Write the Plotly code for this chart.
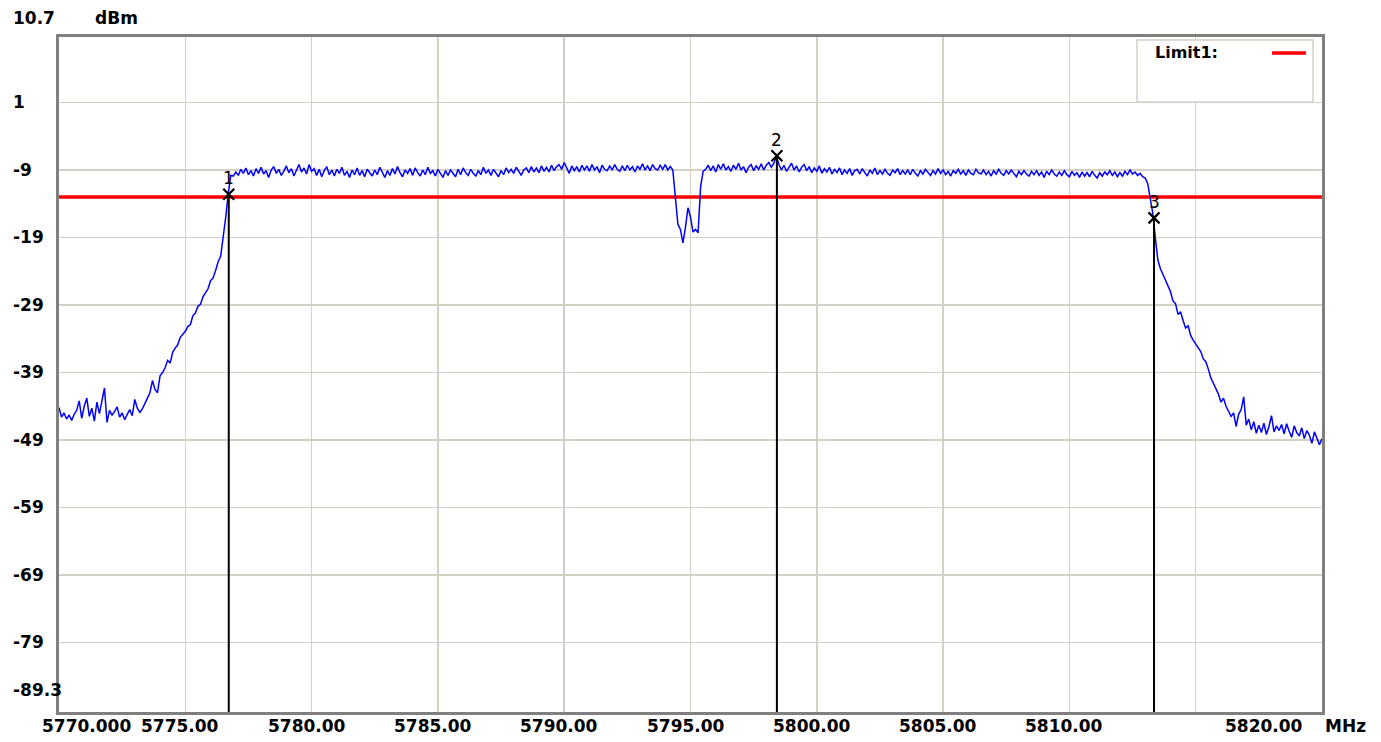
import numpy as np
import plotly.graph_objects as go

# ---------------- data ----------------
FREQ_MIN, FREQ_MAX = 5770.0, 5820.0
LEVEL_MIN, LEVEL_MAX = -89.3, 10.7
STEP_MHZ = 0.1

# trace segments: (start frequency, levels in dBm read at 0.1 MHz spacing)
SEG_NOISE_LEFT_START = 5770.0
SEG_NOISE_LEFT = [-44.2, -45.6, -45.0, -45.9, -45.3, -46.1, -45.2, -44.6, -43.2, -45.8,
                  -44.0, -42.8, -45.5, -44.3, -46.2, -43.4, -45.1, -42.9, -41.3, -46.4,
                  -44.6, -45.3, -44.8, -44.1, -45.6, -45.0, -46.0, -45.2, -44.5, -45.4,
                  -43.0, -44.3, -44.9]
SEG_RISE_START = 5773.3
SEG_RISE = [-44.4, -43.5, -42.8, -42.0, -40.2, -41.5, -42.0, -39.5, -39.0, -38.3,
            -37.2, -37.6, -36.0, -35.4, -34.9, -33.8, -33.4, -32.9, -32.2, -31.9,
            -30.6, -30.2, -29.2, -28.9, -27.8, -27.1, -26.6, -25.4, -25.0, -23.9,
            -22.6, -21.8, -19.2, -16.0, -12.5, -9.8]
SEG_FLAT1_START = 5776.9
SEG_FLAT1 = [-9.9, -9.3, -9.8, -8.9, -9.5, -8.7, -9.7, -9.1, -9.9, -8.8,
             -9.5, -8.6, -9.6, -9.1, -10.1, -9.0, -8.5, -9.5, -8.9, -9.8,
             -9.2, -8.4, -9.4, -8.8, -9.9, -8.9, -8.2, -9.3, -8.7, -9.6,
             -8.2, -9.2, -8.8, -9.8, -8.9, -10.0, -9.1, -8.5, -9.7, -9.0,
             -9.9, -8.9, -9.5, -8.6, -9.8, -9.2, -10.1, -9.0, -9.7, -8.7,
             -9.8, -9.1, -10.0, -8.9, -9.5, -9.9, -9.0, -9.7, -8.6, -9.4,
             -10.1, -9.1, -9.8, -8.8, -9.6, -8.5, -9.4, -10.0, -9.0, -9.5,
             -8.8, -9.8, -8.7, -9.4, -9.9, -9.0, -9.7, -8.6, -9.5, -9.1,
             -9.9, -8.9, -9.6, -10.1, -9.1, -9.8, -9.0, -9.5, -10.0, -8.9,
             -9.7, -8.7, -9.4, -9.8, -8.9, -9.5, -9.9, -9.1, -9.7, -8.6,
             -9.5, -9.0, -9.8, -8.9, -9.4, -10.0, -9.1, -9.7, -8.7, -9.4,
             -8.9, -9.5, -8.6, -9.3, -9.8, -9.0, -8.7, -9.4, -8.5, -9.3,
             -8.7, -9.4, -8.4, -9.2, -8.6, -9.3, -8.3, -9.1, -8.5, -8.2,
             -8.9, -7.9, -8.7, -9.5, -8.4, -9.1, -8.5, -9.3, -8.3, -9.0,
             -8.4, -9.2, -8.2, -9.0, -8.5, -9.4, -8.3, -8.9, -9.1, -8.4,
             -9.0, -8.2, -8.9, -9.2, -8.4, -9.1, -8.3, -9.0, -8.5, -9.3,
             -8.4, -8.9, -8.1, -9.0, -8.4, -9.1, -8.2, -8.8, -9.0, -8.3,
             -8.9, -8.2, -9.0, -8.5]
SEG_DIP_START = 5794.3
SEG_DIP = [-9.0, -12.5, -17.0, -17.8, -19.8, -17.5, -14.6, -16.0, -18.2, -17.8,
           -18.3, -11.5, -9.2]
SEG_FLAT2_START = 5795.6
SEG_FLAT2 = [-8.9, -8.3, -9.1, -8.4, -9.3, -8.2, -8.9, -8.1, -9.0, -8.5,
             -9.2, -8.3, -8.9, -8.0, -9.0, -8.5, -9.4, -8.6, -8.2, -9.1,
             -8.4, -8.9, -8.1, -9.0, -8.3, -7.9, -8.6, -8.0, -7.0, -8.2,
             -9.0, -8.3, -9.2, -8.5, -8.0, -9.0, -8.4, -9.3, -8.6, -8.2,
             -9.1, -8.5, -9.4, -8.7, -9.2, -8.4, -9.5, -8.8, -9.3, -8.6,
             -9.6, -8.9, -9.4, -8.7, -9.7, -9.0, -9.5, -8.8, -9.8, -9.1,
             -8.9, -9.6, -8.8, -9.4, -9.9, -9.0, -9.5, -8.7, -9.7, -9.1,
             -9.6, -8.9, -9.5, -9.8, -9.0, -9.4, -8.8, -9.7, -9.1, -9.6,
             -9.0, -9.7, -8.9, -9.5, -9.9, -9.1, -9.6, -8.9, -9.4, -9.8,
             -9.1, -9.6, -8.8, -9.5, -9.0, -9.7, -9.2, -9.9, -9.1, -9.5,
             -8.9, -9.6, -9.1, -9.8, -9.0, -9.5, -9.7, -8.9, -9.4, -9.6,
             -9.0, -9.7, -9.2, -9.9, -9.1, -9.6, -8.9, -9.5, -9.8, -9.1,
             -9.6, -9.0, -9.5, -10.0, -9.2, -9.7, -9.1, -9.6, -9.9, -9.2,
             -9.7, -9.1, -9.8, -9.3, -10.1, -9.2, -9.7, -9.0, -9.6, -9.9,
             -9.3, -9.8, -9.1, -9.7, -10.0, -9.2, -9.8, -9.4, -10.1, -9.3,
             -9.9, -9.4, -10.0, -9.2, -9.8, -10.2, -9.4, -9.9, -9.3, -9.7,
             -9.1, -9.8, -9.3, -10.0, -9.4, -9.9, -9.2, -9.7, -9.0, -9.6,
             -9.3, -9.8, -9.5, -10.0]
SEG_FALL_START = 5813.0
SEG_FALL = [-10.2, -11.0, -13.2, -15.4, -19.0, -22.3, -23.6, -24.5, -25.2, -26.1,
            -27.0, -28.4, -28.8, -30.4, -30.0, -31.3, -32.4, -32.1, -33.5, -34.2,
            -34.8, -35.5, -35.9, -37.0, -37.4, -38.5, -39.8, -40.6, -41.3, -42.2,
            -43.4, -42.8, -44.0, -44.8, -45.5, -45.0, -47.0, -45.2, -44.5, -42.6,
            -46.8, -45.9]
SEG_NOISE_RIGHT_START = 5817.2
SEG_NOISE_RIGHT = [-47.5, -46.3, -48.0, -46.8, -47.9, -46.5, -48.2, -47.0, -45.4, -47.8,
                   -46.9, -47.6, -46.7, -48.1, -46.6, -47.7, -48.6, -46.9, -47.9, -48.4,
                   -47.2, -48.8, -47.6, -48.3, -49.5, -47.8, -48.9, -49.7, -48.8]

LIMIT_NAME = "Limit1:"
LIMIT_DBM = -13.0

MARKER_FREQ = [5776.72, 5798.42, 5813.35]
MARKER_LEVEL = [-12.6, -6.9, -16.1]
MARKER_LABEL = ["1", "2", "3"]

Y_TICKS = [1, -9, -19, -29, -39, -49, -59, -69, -79]
Y_LABELS = ["10.7", "1", "-9", "-19", "-29", "-39", "-49", "-59", "-69", "-79", "-89.3"]
Y_LABEL_VALUES = [10.7, 1, -9, -19, -29, -39, -49, -59, -69, -79, -89.3]
X_TICKS = [5775, 5780, 5785, 5790, 5795, 5800, 5805, 5810, 5815]
X_LABELS = ["5775.00", "5780.00", "5785.00", "5790.00", "5795.00", "5800.00", "5805.00", "5810.00"]
X_LABEL_VALUES = [5775, 5780, 5785, 5790, 5795, 5800, 5805, 5810]
X_FIRST_LABEL = "5770.000"
X_LAST_LABEL = "5820.00"
X_UNIT = "MHz"
Y_UNIT = "dBm"

# ---------------- build trace ----------------
segments = [
    (SEG_NOISE_LEFT_START, SEG_NOISE_LEFT),
    (SEG_RISE_START, SEG_RISE),
    (SEG_FLAT1_START, SEG_FLAT1),
    (SEG_DIP_START, SEG_DIP),
    (SEG_FLAT2_START, SEG_FLAT2),
    (SEG_FALL_START, SEG_FALL),
    (SEG_NOISE_RIGHT_START, SEG_NOISE_RIGHT),
]
freq, level = [], []
for start, vals in segments:
    freq.extend(start + STEP_MHZ * np.arange(len(vals)))
    level.extend(vals)

FONT = "DejaVu Sans"
GRID = "#d4d0c8"
FRAME = "#808080"
W, H = 1381, 742
ML, MR, MT, MB = 59, 59, 37, 30
PW = W - ML - MR
PH = H - MT - MB


def px_to_paper_x(px):
    return (px - ML) / PW


def px_to_paper_y(py):
    return (H - MB - py) / PH


fig = go.Figure()

# limit line
fig.add_trace(go.Scatter(x=[FREQ_MIN, FREQ_MAX], y=[LIMIT_DBM, LIMIT_DBM], mode="lines",
                         line=dict(color="#ff0000", width=3.5), hoverinfo="skip"))
# spectrum trace
fig.add_trace(go.Scatter(x=freq, y=level, mode="lines",
                         line=dict(color="#0000ff", width=1.5), hoverinfo="skip"))
# marker lines
for f, lv in zip(MARKER_FREQ, MARKER_LEVEL):
    fig.add_trace(go.Scatter(x=[f, f], y=[LEVEL_MIN, lv], mode="lines",
                             line=dict(color="#000000", width=2), hoverinfo="skip"))
# marker X symbols
fig.add_trace(go.Scatter(x=MARKER_FREQ, y=MARKER_LEVEL, mode="markers",
                         marker=dict(symbol="x-thin", size=11,
                                     line=dict(color="#000000", width=2.2)),
                         hoverinfo="skip"))

annotations = []
for f, lv, lab in zip(MARKER_FREQ, MARKER_LEVEL, MARKER_LABEL):
    annotations.append(dict(x=f, y=lv, xref="x", yref="y", text=lab, showarrow=False,
                            yshift=16, font=dict(family=FONT, size=17, color="#000000")))

# y labels (left aligned)
for v, t in zip(Y_LABEL_VALUES, Y_LABELS):
    ys = 0
    if t == "10.7":
        ys = 19
    elif t == "-89.3":
        ys = 22
    annotations.append(dict(x=px_to_paper_x(11), y=v, xref="paper", yref="y", text=t,
                            showarrow=False, xanchor="left", yanchor="middle", yshift=ys,
                            font=dict(family=FONT, size=17, color="#000000", weight="bold")))
annotations.append(dict(x=px_to_paper_x(93), y=1, xref="paper", yref="paper", text=Y_UNIT,
                        showarrow=False, xanchor="left", yanchor="middle", yshift=19,
                        font=dict(family=FONT, size=17, color="#000000", weight="bold")))

# x labels
xfont = dict(family=FONT, size=17, color="#000000", weight="bold")
for v, t in zip(X_LABEL_VALUES, X_LABELS):
    annotations.append(dict(x=v, y=0, xref="x", yref="paper", text=t, showarrow=False,
                            xanchor="center", yanchor="middle", yshift=-14, xshift=-5, font=xfont))
annotations.append(dict(x=FREQ_MIN, y=0, xref="x", yref="paper", text=X_FIRST_LABEL,
                        showarrow=False, xanchor="left", yanchor="middle", yshift=-14,
                        xshift=-19, font=xfont))
annotations.append(dict(x=FREQ_MAX, y=0, xref="x", yref="paper", text=X_LAST_LABEL,
                        showarrow=False, xanchor="right", yanchor="middle", yshift=-14,
                        xshift=-17, font=xfont))
annotations.append(dict(x=FREQ_MAX, y=0, xref="x", yref="paper", text=X_UNIT,
                        showarrow=False, xanchor="left", yanchor="middle", yshift=-14,
                        xshift=1, font=xfont))

# legend box
annotations.append(dict(x=px_to_paper_x(1153), y=px_to_paper_y(53), xref="paper", yref="paper",
                        text=LIMIT_NAME, showarrow=False, xanchor="left", yanchor="middle",
                        font=dict(family=FONT, size=16, color="#000000", weight="bold")))
shapes = [
    dict(type="rect", xref="paper", yref="paper",
         x0=px_to_paper_x(1137), x1=px_to_paper_x(1313),
         y0=px_to_paper_y(102), y1=px_to_paper_y(40),
         line=dict(color=GRID, width=1.5), fillcolor="#ffffff", layer="above"),
    dict(type="line", xref="paper", yref="paper",
         x0=px_to_paper_x(1272), x1=px_to_paper_x(1306),
         y0=px_to_paper_y(53), y1=px_to_paper_y(53),
         line=dict(color="#ff0000", width=3.5), layer="above"),
]

fig.update_layout(
    width=W, height=H,
    margin=dict(l=ML, r=MR, t=MT, b=MB, pad=0),
    paper_bgcolor="#ffffff", plot_bgcolor="#ffffff",
    showlegend=False,
    hovermode=False,
    annotations=annotations,
    shapes=shapes,
    xaxis=dict(range=[FREQ_MIN, FREQ_MAX], tickvals=X_TICKS, showticklabels=False,
               showgrid=True, gridcolor=GRID, gridwidth=1.5, zeroline=False,
               showline=True, linecolor=FRAME, linewidth=3, mirror=True, ticks=""),
    yaxis=dict(range=[LEVEL_MIN, LEVEL_MAX], tickvals=Y_TICKS, showticklabels=False,
               showgrid=True, gridcolor=GRID, gridwidth=1.5, zeroline=False,
               showline=True, linecolor=FRAME, linewidth=3, mirror=True, ticks=""),
)

fig.write_html("out.html", config={"displayModeBar": False, "staticPlot": True},
               post_script="document.body.style.margin='0';document.body.style.overflow='hidden';")
